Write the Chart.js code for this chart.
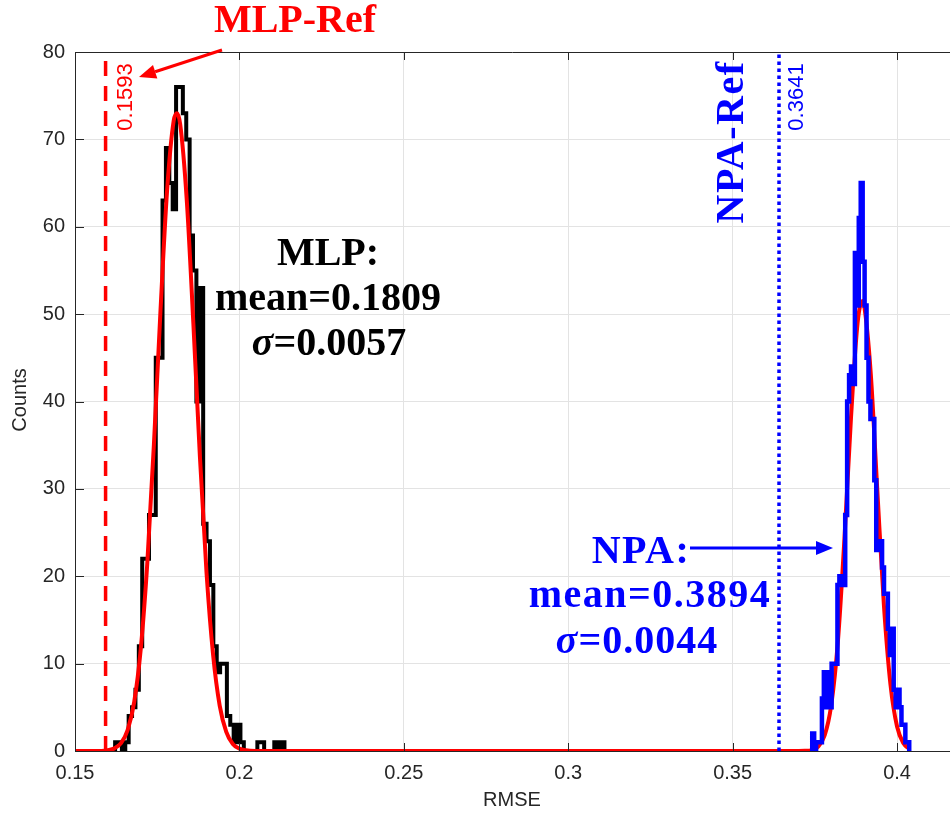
<!DOCTYPE html>
<html>
<head>
<meta charset="utf-8">
<script src="https://cdn.jsdelivr.net/npm/chart.js@4.4.1/dist/chart.umd.min.js"></script>
<style>
  html, body { margin: 0; padding: 0; background: #fff; }
  #wrap { width: 950px; height: 816px; }
</style>
</head>
<body>
<div id="wrap"><canvas id="rmseChart" width="950" height="816"></canvas></div>
<script>
// axis ticks
const xTicks = [0.15, 0.2, 0.25, 0.3, 0.35, 0.4];
const yTicks = [0, 10, 20, 30, 40, 50, 60, 70, 80];

// MLP histogram, 50 bins
const mlpBinStart = 0.1622;
const mlpBinWidth = 0.00103;
const mlpCounts = [1, 1, 0, 1, 4, 5, 7, 12, 22, 22,
                   27, 27, 45, 45, 63, 69, 65, 62, 76, 76,
                   73, 70, 59, 55, 40, 53, 26, 24, 19, 12,
                   9, 10, 10, 4, 3, 1, 3, 1, 0, 0,
                   0, 0, 1, 1, 0, 0, 0, 1, 0, 1];

// NPA histogram, 50 bins
const npaBinStart = 0.3742;
const npaBinWidth = 0.00059;
const npaCounts = [2, 0, 1, 1, 1, 6, 9, 5, 9, 5,
                   10, 10, 10, 19, 20, 20, 19, 27, 40, 43,
                   44, 42, 57, 51, 61, 65, 56, 51, 45, 40,
                   38, 38, 31, 23, 23, 24, 21, 18, 18, 14,
                   11, 14, 7, 5, 7, 5, 3, 3, 1, 1];

// red fitted normal curves
const fitX = [0.150, 0.158, 0.160, 0.162, 0.164, 0.166, 0.168, 0.170, 0.172, 0.174,
              0.176, 0.178, 0.180, 0.181, 0.182, 0.184, 0.186, 0.188, 0.190, 0.192,
              0.194, 0.196, 0.198, 0.200, 0.202, 0.205, 0.210, 0.360, 0.370, 0.372,
              0.374, 0.376, 0.378, 0.380, 0.382, 0.384, 0.386, 0.388, 0.3895, 0.390,
              0.392, 0.394, 0.396, 0.398, 0.400, 0.402, 0.4035];
const fitY = [0, 0.01, 0.09, 0.3, 0.9, 2.4, 5.6, 11.7, 21.6, 35.1,
              50.4, 64.1, 72.1, 73.0, 71.7, 63.0, 48.9, 33.6, 20.4, 11.0,
              5.2, 2.2, 0.8, 0.27, 0.08, 0.01, 0, 0, 0.003, 0.02,
              0.11, 0.5, 1.8, 5.3, 12.5, 24.3, 38.2, 49.0, 51.5, 51.0,
              43.2, 29.8, 16.7, 7.6, 2.8, 0.85, 0.31];

// reference RMSE values
const mlpRef = 0.1593;
const npaRef = 0.3641;

// outline of a histogram drawn as stairs
function stairs(start, width, counts) {
  const pts = [{ x: start, y: 0 }];
  counts.forEach((c, i) => {
    pts.push({ x: start + i * width, y: c });
    pts.push({ x: start + (i + 1) * width, y: c });
  });
  pts.push({ x: start + counts.length * width, y: 0 });
  return pts;
}

const SERIF = '"Liberation Serif", "Times New Roman", serif';
const SANS = '"Liberation Sans", Arial, Helvetica, sans-serif';

function drawText(ctx, str, x, y, font, color, rot, spacing) {
  ctx.save();
  ctx.translate(x, y);
  if (rot) ctx.rotate(rot);
  ctx.font = font;
  ctx.letterSpacing = spacing || '0px';
  ctx.fillStyle = color;
  ctx.textAlign = 'center';
  ctx.textBaseline = 'middle';
  ctx.fillText(str, 0, 0);
  ctx.restore();
}

// "σ=..." with an italic sigma
function drawSigma(ctx, val, x, y, color, spacing) {
  ctx.save();
  ctx.fillStyle = color;
  ctx.textBaseline = 'middle';
  ctx.textAlign = 'left';
  ctx.letterSpacing = spacing || '0px';
  const f1 = 'italic bold 40px ' + SERIF;
  const f2 = 'bold 40px ' + SERIF;
  ctx.font = f1;
  const w1 = ctx.measureText('σ').width;
  ctx.font = f2;
  const w2 = ctx.measureText(val).width;
  const x0 = x - (w1 + w2) / 2;
  ctx.font = f1;
  ctx.fillText('σ', x0, y);
  ctx.font = f2;
  ctx.fillText(val, x0 + w1, y);
  ctx.restore();
}

function drawArrow(ctx, x1, y1, x2, y2, color) {
  const ang = Math.atan2(y2 - y1, x2 - x1);
  const hl = 17, hw = 7;
  const bx = x2 - hl * Math.cos(ang), by = y2 - hl * Math.sin(ang);
  ctx.save();
  ctx.strokeStyle = color;
  ctx.fillStyle = color;
  ctx.lineWidth = 3;
  ctx.beginPath();
  ctx.moveTo(x1, y1);
  ctx.lineTo(bx, by);
  ctx.stroke();
  ctx.beginPath();
  ctx.moveTo(x2, y2);
  ctx.lineTo(bx + hw * Math.sin(ang), by - hw * Math.cos(ang));
  ctx.lineTo(bx - hw * Math.sin(ang), by + hw * Math.cos(ang));
  ctx.closePath();
  ctx.fill();
  ctx.restore();
}

const overlay = {
  id: 'overlay',
  afterDatasetsDraw(chart) {
    const { ctx, chartArea: a, scales: { x, y } } = chart;
    ctx.save();
    // box top and inward tick marks
    ctx.strokeStyle = '#262626';
    ctx.lineWidth = 1;
    ctx.beginPath();
    ctx.moveTo(a.left, a.top + 0.5);
    ctx.lineTo(a.right, a.top + 0.5);
    xTicks.forEach(v => {
      const px = Math.round(x.getPixelForValue(v)) + 0.5;
      ctx.moveTo(px, a.bottom); ctx.lineTo(px, a.bottom - 8);
      ctx.moveTo(px, a.top); ctx.lineTo(px, a.top + 8);
    });
    yTicks.forEach(v => {
      const py = Math.round(y.getPixelForValue(v)) + 0.5;
      ctx.moveTo(a.left, py); ctx.lineTo(a.left + 9, py);
    });
    ctx.stroke();
    ctx.restore();

    // axis titles
    drawText(ctx, 'Counts', 20, 400, '20px ' + SANS, '#262626', -Math.PI / 2);
    drawText(ctx, 'RMSE', 512, 800, '20px ' + SANS, '#262626');

    // reference labels
    drawText(ctx, 'MLP-Ref', 295, 22, 'bold 40px ' + SERIF, '#ff0000');
    drawArrow(ctx, 222, 50, 139, 77, '#ff0000');
    drawText(ctx, '0.1593', 126, 97, '22px ' + SANS, '#ff0000', -Math.PI / 2);
    drawText(ctx, 'NPA-Ref', 733, 142, 'bold 40px ' + SERIF, '#0000ff', -Math.PI / 2, '1.5px');
    drawText(ctx, '0.3641', 797, 97, '22px ' + SANS, '#0000ff', -Math.PI / 2);

    // MLP summary
    drawText(ctx, 'MLP:', 328, 255, 'bold 40px ' + SERIF, '#000000');
    drawText(ctx, 'mean=0.1809', 328, 300, 'bold 40px ' + SERIF, '#000000');
    drawSigma(ctx, '=0.0057', 329, 345, '#000000');

    // NPA summary
    drawText(ctx, 'NPA:', 641, 553, 'bold 40px ' + SERIF, '#0000ff', 0, '1.5px');
    drawArrow(ctx, 690, 548, 833, 548, '#0000ff');
    drawText(ctx, 'mean=0.3894', 650, 597, 'bold 40px ' + SERIF, '#0000ff', 0, '1.5px');
    drawSigma(ctx, '=0.0044', 637, 643, '#0000ff', '1px');
  }
};

new Chart(document.getElementById('rmseChart'), {
  type: 'line',
  data: {
    datasets: [
      {
        label: 'MLP-Ref',
        data: [{ x: mlpRef, y: 0 }, { x: mlpRef, y: 80 }],
        borderColor: '#ff0000',
        borderWidth: 3.5,
        borderDash: [15, 10],
        order: 0
      },
      {
        label: 'NPA-Ref',
        data: [{ x: npaRef, y: 0 }, { x: npaRef, y: 80 }],
        borderColor: '#0000ff',
        borderWidth: 3.5,
        borderDash: [3.5, 3.5],
        order: 0
      },
      {
        label: 'NPA',
        data: stairs(npaBinStart, npaBinWidth, npaCounts),
        borderColor: '#0000ff',
        borderWidth: 4.5,
        order: 1
      },
      {
        label: 'Normal fit',
        data: fitX.map((v, i) => ({ x: v, y: fitY[i] })),
        borderColor: '#ff0000',
        borderWidth: 4,
        cubicInterpolationMode: 'monotone',
        order: 2
      },
      {
        label: 'MLP',
        data: stairs(mlpBinStart, mlpBinWidth, mlpCounts),
        borderColor: '#000000',
        borderWidth: 4,
        order: 3
      }
    ]
  },
  options: {
    responsive: false,
    animation: false,
    devicePixelRatio: 1,
    layout: { padding: { top: 52, right: 0, left: 0, bottom: 0 } },
    elements: {
      point: { radius: 0 },
      line: { fill: false, tension: 0, borderJoinStyle: 'miter', borderCapStyle: 'butt' }
    },
    plugins: {
      legend: { display: false },
      tooltip: { enabled: false }
    },
    scales: {
      x: {
        type: 'linear',
        min: 0.15,
        max: 0.4161,
        afterBuildTicks: s => { s.ticks = xTicks.map(v => ({ value: v })); },
        afterFit: s => { s.height = 65; },
        ticks: {
          color: '#262626',
          font: { size: 20, family: SANS },
          padding: 10,
          maxRotation: 0,
          callback: v => String(+v.toFixed(2))
        },
        grid: { color: '#e3e3e3', drawTicks: false },
        border: { color: '#262626', width: 1 }
      },
      y: {
        type: 'linear',
        min: 0,
        max: 80,
        afterBuildTicks: s => { s.ticks = yTicks.map(v => ({ value: v })); },
        afterFit: s => { s.width = 75; },
        ticks: {
          color: '#262626',
          font: { size: 20, family: SANS },
          padding: 10
        },
        grid: { color: '#e3e3e3', drawTicks: false },
        border: { color: '#262626', width: 1 }
      }
    }
  },
  plugins: [overlay]
});
</script>
</body>
</html>
